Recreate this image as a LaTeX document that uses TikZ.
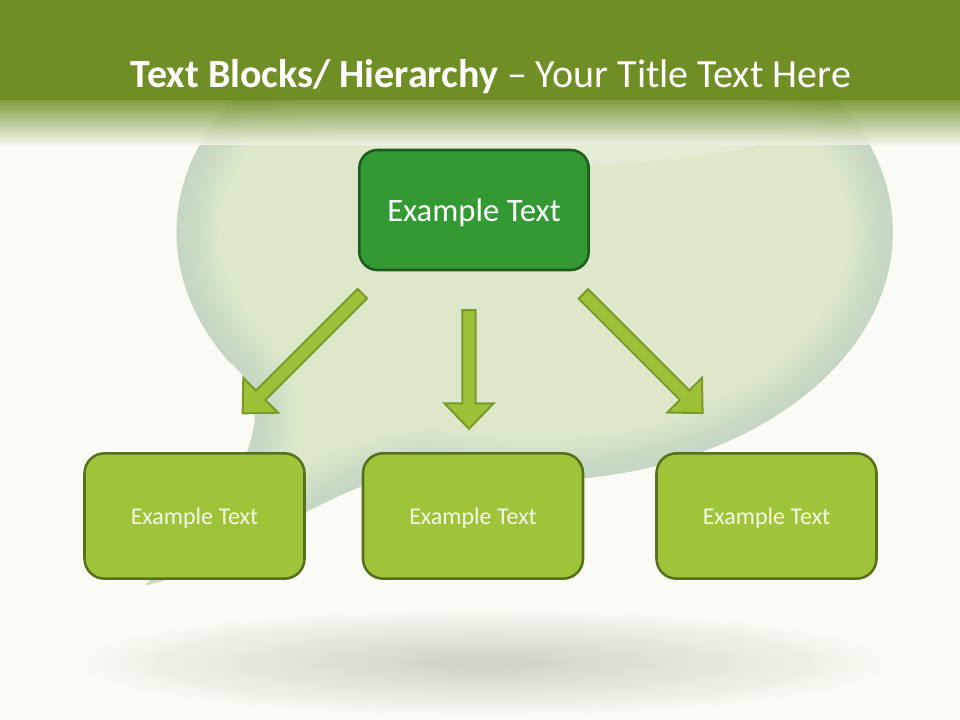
\documentclass[tikz,border=0pt]{standalone}
\usepackage{fontspec}
\setmainfont{Carlito}
\usetikzlibrary{shapes.arrows}
\definecolor{bgwhite}{RGB}{250,251,245}
\definecolor{hdrgreen}{RGB}{111,142,37}
\definecolor{bubblein}{RGB}{221,232,203}
\definecolor{bubbleout}{RGB}{188,209,196}
\definecolor{darkgreen}{RGB}{51,153,51}
\definecolor{darkline}{RGB}{30,91,30}
\definecolor{litegreen}{RGB}{160,196,57}
\definecolor{liteline}{RGB}{86,112,28}
\definecolor{arrowfill}{RGB}{157,194,58}
\definecolor{arrowline}{RGB}{121,154,42}
\definecolor{shadowgray}{RGB}{212,210,200}
\definecolor{boxtext}{RGB}{244,248,232}
\newcommand{\bubblepath}{(231,-363) .. controls (280,-405) and (255,-480) .. (145,-585) .. controls (230,-570) and (364,-457) .. (442,-472) arc [start angle=255, end angle=572, x radius=358, y radius=248] -- cycle}

\begin{document}
\begin{tikzpicture}[x=0.75pt,y=0.75pt,
	topbox/.style={draw=darkline,fill=darkgreen,line width=1.9pt,rounded corners=13.5pt,minimum width=172pt,minimum height=90pt,text=white,text depth=0pt,font=\fontsize{24.5}{29}\selectfont},
	box/.style={draw=liteline,fill=litegreen,line width=1.9pt,rounded corners=15pt,minimum width=165pt,minimum height=94pt,text=boxtext,text depth=0pt,font=\fontsize{18}{22}\selectfont},
	blockarrow/.style={single arrow,draw=arrowline,fill=arrowfill,line width=1.5pt,inner sep=4.3pt,single arrow head extend=13.4pt,single arrow tip angle=88}]
	\fill[bgwhite] (0,0) rectangle (960,-720);
	\useasboundingbox (0,0) rectangle (960,-720);

	% floor shadow
	\foreach \k in {1,...,40}
		\fill[shadowgray,opacity=0.028] (484,-663) ellipse [x radius=10*\k, y radius=1.3*\k];

	% speech bubble, darker rim
	\fill[bubblein] \bubblepath;
	\begin{scope}
		\clip \bubblepath;
		\foreach \w in {84,76,...,4}
			\draw[bubbleout,line width=\w*0.75pt,opacity=0.085] \bubblepath;
	\end{scope}
	\fill[white,opacity=0.18] (560,-90) ellipse [x radius=290, y radius=75];

	% header
	\fill[hdrgreen] (0,0) rectangle (960,-100);
	\shade[top color=hdrgreen,bottom color=hdrgreen!6!bgwhite,opacity=0.85] (0,-100) rectangle (960,-145);
	\node[text=white,font=\fontsize{30}{36}\selectfont,anchor=base] (title) at (491,-88) {\textbf{Text Blocks/ Hierarchy} – Your Title Text Here};

	\node[topbox] (top) at (474,-210) {Example Text};
	\node[box] (left) at (194.5,-516) {Example Text};
	\node[box] (mid) at (473,-516) {Example Text};
	\node[box] (right) at (766.5,-516) {Example Text};

	\node[blockarrow,minimum height=127pt,rotate=225] (arrowL) at (305,-351) {};
	\node[blockarrow,minimum height=89pt,rotate=-90] (arrowM) at (469,-366) {};
	\node[blockarrow,minimum height=126.5pt,rotate=-45] (arrowR) at (640.5,-351) {};
\end{tikzpicture}
\end{document}
